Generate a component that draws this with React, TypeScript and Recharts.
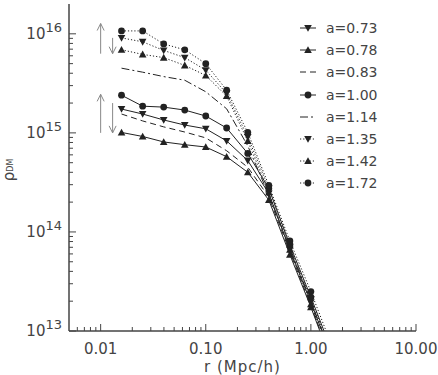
import React from "react";
import { LineChart, Line, XAxis, YAxis, ReferenceLine, Legend } from "recharts";

// radius bins (Mpc/h)
const radius = [0.0158, 0.0251, 0.0398, 0.0631, 0.1, 0.158, 0.251, 0.398, 0.631, 1.0, 1.58];

// dark matter density per expansion factor
const rhoA073 = [1.74e15, 1.55e15, 1.35e15, 1.2e15, 1.1e15, 8.3e14, 5.25e14, 2.45e14, 6.6e13, 1.95e13, 5.5e12];
const rhoA078 = [1.01e15, 9.2e14, 8.1e14, 7.6e14, 7.2e14, 5.75e14, 4.0e14, 2.1e14, 5.9e13, 1.74e13, 4.8e12];
const rhoA083 = [1.55e15, 1.32e15, 1.15e15, 1.02e15, 8.9e14, 6.6e14, 4.5e14, 2.25e14, 6.3e13, 1.8e13, 5.0e12];
const rhoA100 = [2.4e15, 1.86e15, 1.82e15, 1.7e15, 1.48e15, 1.12e15, 6.2e14, 2.75e14, 7.4e13, 2.2e13, 6.3e12];
const rhoA114 = [4.5e15, 4.1e15, 3.7e15, 3.4e15, 2.6e15, 1.75e15, 7.4e14, 2.35e14, 6.9e13, 2.0e13, 5.6e12];
const rhoA135 = [9.1e15, 8.3e15, 6.8e15, 5.75e15, 4.3e15, 2.5e15, 9.1e14, 2.75e14, 7.1e13, 2.1e13, 6.0e12];
const rhoA142 = [6.9e15, 6.2e15, 5.75e15, 4.8e15, 3.8e15, 2.35e15, 8.3e14, 2.5e14, 6.6e13, 1.86e13, 5.2e12];
const rhoA172 = [1.07e16, 1.07e16, 7.9e15, 6.9e15, 5.0e15, 2.7e15, 1.01e15, 2.95e14, 8.1e13, 2.5e13, 7.1e12];

const xTicks = [
  0.006, 0.007, 0.008, 0.009,
  0.01, 0.02, 0.03, 0.04, 0.05, 0.06, 0.07, 0.08, 0.09,
  0.1, 0.2, 0.3, 0.4, 0.5, 0.6, 0.7, 0.8, 0.9,
  1, 2, 3, 4, 5, 6, 7, 8, 9, 10,
];
const yTicks = [
  1e13, 2e13, 3e13, 4e13, 5e13, 6e13, 7e13, 8e13, 9e13,
  1e14, 2e14, 3e14, 4e14, 5e14, 6e14, 7e14, 8e14, 9e14,
  1e15, 2e15, 3e15, 4e15, 5e15, 6e15, 7e15, 8e15, 9e15,
  1e16,
];

// growth arrows (x, from, to)
const arrowX = [0.01, 0.013, 0.01, 0.013];
const arrowFrom = [6.3e15, 9.1e15, 1.0e15, 2.0e15];
const arrowTo = [1.27e16, 6.3e15, 2.45e15, 1.0e15];

const SERIES = [
  { key: "a073", label: "a=0.73", values: rhoA073, dash: undefined, marker: "down" },
  { key: "a078", label: "a=0.78", values: rhoA078, dash: undefined, marker: "up" },
  { key: "a083", label: "a=0.83", values: rhoA083, dash: "6 4", marker: "none" },
  { key: "a100", label: "a=1.00", values: rhoA100, dash: undefined, marker: "circle" },
  { key: "a114", label: "a=1.14", values: rhoA114, dash: "8 3 2 3", marker: "none" },
  { key: "a135", label: "a=1.35", values: rhoA135, dash: "1.2 2", marker: "down" },
  { key: "a142", label: "a=1.42", values: rhoA142, dash: "1.2 2", marker: "up" },
  { key: "a172", label: "a=1.72", values: rhoA172, dash: "1.2 2", marker: "circle" },
];

const data = radius.map((r, i) => {
  const row: Record<string, number> = { r };
  SERIES.forEach((s) => (row[s.key] = s.values[i]));
  return row;
});

const INK = "#222";
const TEXT = "#444";
const FRAME = "#444";
const FONT = "'DejaVu Sans', sans-serif";

const isMajor = (v: number) => Math.abs(Math.log10(v) - Math.round(Math.log10(v))) < 1e-6;

function Marker({ kind, cx, cy }: { kind: string; cx: number; cy: number }) {
  if (kind === "circle") return <circle cx={cx} cy={cy} r={3.4} fill={INK} />;
  if (kind === "down")
    return <polygon points={`${cx - 3.8},${cy - 3} ${cx + 3.8},${cy - 3} ${cx},${cy + 3.8}`} fill={INK} />;
  if (kind === "up")
    return <polygon points={`${cx - 3.8},${cy + 3} ${cx + 3.8},${cy + 3} ${cx},${cy - 3.8}`} fill={INK} />;
  return null;
}

const XTickBottom = (props: any) => {
  const { x, y, payload } = props;
  const v = payload.value;
  const major = isMajor(v);
  return (
    <g>
      <line x1={x} x2={x} y1={y} y2={y - (major ? 7 : 4)} stroke={FRAME} strokeWidth={1} />
      {major && (
        <text x={x} y={y + 23} textAnchor="middle" fontSize={15} fill={TEXT} fontFamily={FONT}>
          {v.toFixed(2)}
        </text>
      )}
    </g>
  );
};

const XTickTop = (props: any) => {
  const { x, y, payload } = props;
  const major = isMajor(payload.value);
  return <line x1={x} x2={x} y1={y} y2={y + (major ? 7 : 4)} stroke={FRAME} strokeWidth={1} />;
};

const YTickLeft = (props: any) => {
  const { x, y, payload } = props;
  const v = payload.value;
  const major = isMajor(v);
  return (
    <g>
      <line x1={x} x2={x + (major ? 7 : 4)} y1={y} y2={y} stroke={FRAME} strokeWidth={1} />
      {major && (
        <text x={x - 7} y={y + 5} textAnchor="end" fill={TEXT} fontFamily={FONT}>
          <tspan fontSize={15}>10</tspan>
          <tspan fontSize={13} dy={-7}>{Math.round(Math.log10(v))}</tspan>
        </text>
      )}
    </g>
  );
};

const YTickRight = (props: any) => {
  const { x, y, payload } = props;
  const major = isMajor(payload.value);
  return <line x1={x} x2={x - (major ? 7 : 4)} y1={y} y2={y} stroke={FRAME} strokeWidth={1} />;
};

const Arrow = (p: any) => {
  const { x1, y1, x2, y2 } = p;
  const dir = y2 < y1 ? 1 : -1;
  const h = 7;
  const w = 3.5;
  return (
    <g stroke="#888" fill="none" strokeWidth={1}>
      <line x1={x1} y1={y1} x2={x2} y2={y2} />
      <polyline points={`${x2 - w},${y2 + dir * h} ${x2},${y2} ${x2 + w},${y2 + dir * h}`} />
    </g>
  );
};

const renderLegend = () => (
  <div style={{ fontFamily: FONT, fontSize: 14, color: TEXT }}>
    {SERIES.map((s) => (
      <div key={s.key} style={{ height: 22.2, display: "flex", alignItems: "center" }}>
        <svg width={30} height={22} style={{ display: "block" }}>
          <line x1={4} x2={20} y1={11} y2={11} stroke={INK} strokeWidth={1} strokeDasharray={s.dash} />
          <Marker kind={s.marker} cx={12} cy={11} />
        </svg>
        <span>{s.label}</span>
      </div>
    ))}
  </div>
);

const renderYLabel = () => (
  <text transform="translate(14,170) rotate(-90)" fill={TEXT} fontFamily={FONT} fontSize={15} textAnchor="middle">
    ρ<tspan fontSize={8} dy={-1}>DM</tspan>
  </text>
);

export default function App() {
  return (
    <div style={{ position: "absolute", left: 0, top: 0, width: 438, height: 375, background: "#fff" }}>
      <LineChart width={438} height={375} data={data} margin={{ top: 4, right: 22, bottom: 0, left: 0 }}>
        <XAxis
          xAxisId="b"
          dataKey="r"
          type="number"
          scale="log"
          domain={[0.005, 10]}
          allowDataOverflow
          ticks={xTicks}
          interval={0}
          tickSize={0}
          tickMargin={0}
          tick={XTickBottom}
          height={44}
          axisLine={{ stroke: FRAME, strokeWidth: 1.5 }}
          label={{
            value: "r (Mpc/h)",
            position: "insideBottom",
            offset: 3,
            fill: TEXT,
            fontSize: 15,
            fontFamily: FONT,
            letterSpacing: 1,
          }}
        />
        <XAxis
          xAxisId="t"
          orientation="top"
          dataKey="r"
          type="number"
          scale="log"
          domain={[0.005, 10]}
          allowDataOverflow
          ticks={xTicks}
          interval={0}
          tickSize={0}
          tickMargin={0}
          tick={XTickTop}
          height={0}
          axisLine={{ stroke: FRAME, strokeWidth: 1.5 }}
        />
        <YAxis
          yAxisId="l"
          type="number"
          scale="log"
          domain={[1e13, 2e16]}
          allowDataOverflow
          ticks={yTicks}
          interval={0}
          tickSize={0}
          tickMargin={0}
          tick={YTickLeft}
          width={69}
          axisLine={{ stroke: FRAME, strokeWidth: 1.5 }}
          label={{ content: renderYLabel }}
        />
        <YAxis
          yAxisId="r"
          orientation="right"
          type="number"
          scale="log"
          domain={[1e13, 2e16]}
          allowDataOverflow
          ticks={yTicks}
          interval={0}
          tickSize={0}
          tickMargin={0}
          tick={YTickRight}
          width={0}
          axisLine={{ stroke: FRAME, strokeWidth: 1.5 }}
        />
        {arrowX.map((x, i) => (
          <ReferenceLine
            key={`arrow-${i}`}
            xAxisId="b"
            yAxisId="l"
            segment={[
              { x, y: arrowFrom[i] },
              { x, y: arrowTo[i] },
            ]}
            ifOverflow="visible"
            shape={Arrow}
          />
        ))}
        {SERIES.map((s) => (
          <Line
            key={s.key}
            xAxisId="b"
            yAxisId="l"
            dataKey={s.key}
            type="linear"
            stroke={INK}
            strokeWidth={1}
            strokeDasharray={s.dash}
            isAnimationActive={false}
            dot={(p: any) => <Marker key={`${s.key}-${p.index}`} kind={s.marker} cx={p.cx} cy={p.cy} />}
            activeDot={false}
          />
        ))}
        <Legend
          layout="vertical"
          align="center"
          verticalAlign="middle"
          content={renderLegend}
          wrapperStyle={{ left: 296, top: 17, width: 120, height: 180 }}
        />
      </LineChart>
    </div>
  );
}
